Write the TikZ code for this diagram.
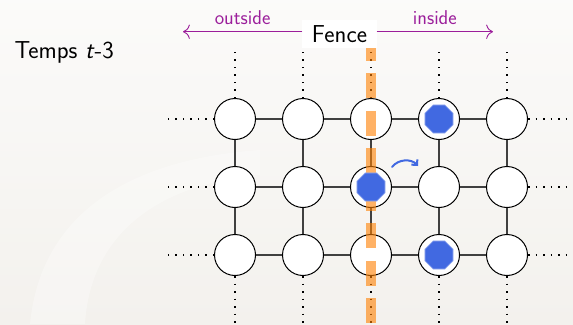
\documentclass[tikz,border=0pt]{standalone}
\usepackage{amsmath}
\usepackage{fontspec}
\usepackage{xcolor}
\usepackage{tikz}
\usetikzlibrary{positioning, arrows.meta, shapes.geometric, calc}
\renewcommand{\familydefault}{\sfdefault}
\definecolor{bgcol}{RGB}{243,241,237}
\definecolor{tokblue}{RGB}{65,105,225}
\definecolor{sidecol}{RGB}{155,30,155}
\tikzset{
  site/.style={circle, draw, line width=1pt, fill=white, minimum size=41pt, inner sep=0pt},
  link/.style={line width=1.1pt, black!75},
  dots/.style={line width=1.5pt, dash pattern=on 1.5pt off 6pt},
  token/.style={regular polygon, regular polygon sides=8, fill=tokblue, draw=tokblue!55,
                line width=0.8pt, minimum size=30.5pt, inner sep=0pt},
  arr/.style={-{To[length=2.4mm]}, line width=0.9pt, sidecol},
  lbl/.style={text=sidecol, inner sep=2pt, font=\fontsize{20}{23}\selectfont},
  big/.style={font=\fontsize{24.5}{28}\selectfont},
}

\begin{document}
\begin{tikzpicture}[x=1pt, y=-1pt]
  \useasboundingbox (0,0) rectangle (573,324);
  % slide background
  \shade[top color=white!70!bgcol, bottom color=bgcol] (0,0) rectangle (573,324);
  \fill[white, opacity=0.3] (30,324) .. controls (40,220) and (120,160) .. (260,150)
    -- (260,175) .. controls (150,185) and (90,240) .. (85,324) -- cycle;

  % the grid of sites
  \foreach \c/\x in {1/235,2/303,3/371,4/439,5/507}
    \foreach \r/\y in {1/119,2/187,3/255}
      \node[site] (n\c\r) at (\x,\y) {};

  \foreach \r in {1,2,3} {
    \foreach \c/\e in {1/2,2/3,3/4,4/5}
      \draw[link] (n\c\r) -- (n\e\r);
  }
  \foreach \c in {1,...,5} {
    \draw[link] (n\c1) -- (n\c2);
    \draw[link] (n\c2) -- (n\c3);
  }

  % the grid goes on beyond the frame
  \foreach \c in {1,...,5} {
    \draw[dots] (n\c1.north) -- ++(0,-49);
    \draw[dots] (n\c3.south) -- ++(0,49);
  }
  \foreach \r in {1,2,3} {
    \draw[dots] (n1\r.west) -- ++(-48,0);
    \draw[dots] (n5\r.east) -- ++(46,0);
  }

  % fence through the middle column
  \coordinate (ftop) at (371,35.75);
  \coordinate (fbot) at (371,324);
  \draw[orange, opacity=0.6, line width=10pt, dash pattern=on 25pt off 12.5pt] (ftop) -- (fbot);

  % occupied sites
  \foreach \p in {n41,n32,n43}
    \node[token] (tok\p) at (\p) {};

  \coordinate (mvA) at (392,167);
  \coordinate (mvB) at (418,166);
  \draw[tokblue, line width=2pt, line cap=round, -{Straight Barb[length=4pt]}] (mvA) to[bend left=50] (mvB);

  % header
  \node[big, fill=white, inner xsep=9.5pt, inner ysep=5.5pt] (fence) at (339.5,34) {Fence};
  \coordinate (outL) at (183,31.7);
  \coordinate (inR) at (493,31.7);
  \draw[arr] (fence.west |- outL) -- node[lbl, above=5pt] (outlbl) {outside} (outL);
  \draw[arr] (fence.east |- inR) -- node[lbl, above=5pt] (inlbl) {inside} (inR);

  \node[big, anchor=base west] (temps) at (11,58) {Temps \textit{t}-3};
\end{tikzpicture}
\end{document}
